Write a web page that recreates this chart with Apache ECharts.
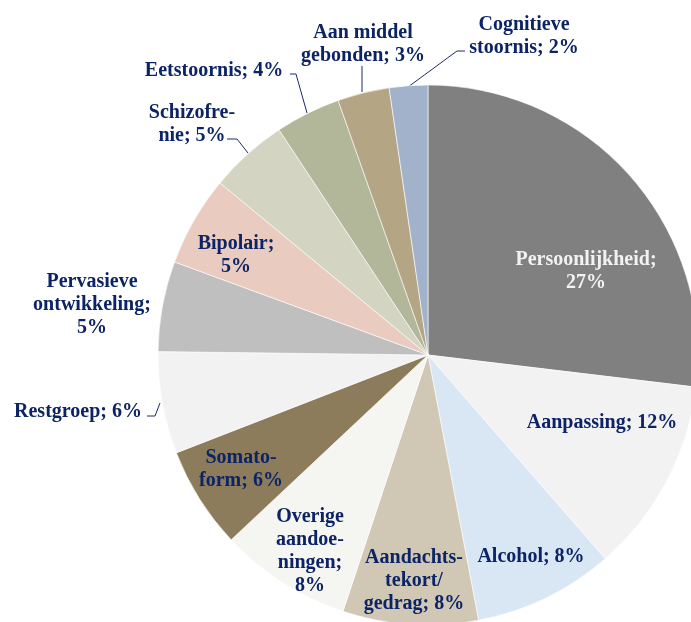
<!DOCTYPE html>
<html>
<head>
<meta charset="utf-8">
<script src="https://cdn.jsdelivr.net/npm/echarts@6/dist/echarts.min.js"></script>
<style>
  html, body { margin: 0; padding: 0; background: #fff; }
  #chart { width: 691px; height: 622px; }
</style>
</head>
<body>
<div id="chart"></div>
<script>
// ---------- data ----------
const categories = [
  "Persoonlijkheid", "Aanpassing", "Alcohol", "Aandachtstekort/gedrag",
  "Overige aandoeningen", "Somatoform", "Restgroep", "Pervasieve ontwikkeling",
  "Bipolair", "Schizofrenie", "Eetstoornis", "Aan middel gebonden", "Cognitieve stoornis"
];
// slice sizes (percent)
const shares = [26.9, 11.7, 8.4, 8.1, 7.9, 6.1, 6.1, 5.4, 5.4, 4.7, 3.9, 3.1, 2.3];
// percentages printed on the chart
const shownPct = [27, 12, 8, 8, 8, 6, 6, 5, 5, 5, 4, 3, 2];
// label text as broken in the reference ({p} = printed percentage)
const labelText = [
  "Persoonlijkheid;\n{p}%", "Aanpassing; {p}%", "Alcohol; {p}%", "Aandachts-\ntekort/\ngedrag; {p}%",
  "Overige\naandoe-\nningen;\n{p}%", "Somato-\nform; {p}%", "Restgroep; {p}%", "Pervasieve\nontwikkeling;\n{p}%",
  "Bipolair;\n{p}%", "Schizofre-\nnie; {p}%", "Eetstoornis; {p}%", "Aan middel\ngebonden; {p}%", "Cognitieve\nstoornis; {p}%"
];

// ---------- styling / layout ----------
const colors = [
  "#808080", "#f2f2f2", "#d9e7f5", "#d0c7b4", "#f5f5f1", "#8c7c5b", "#f2f2f2",
  "#bfbfbf", "#e9cbc0", "#d3d5c2", "#b2b79a", "#b4a584", "#a3b2cb"
];
const NAVY = "#0c2466";
// label centres [x, y] and leader line points (null = no line)
const labelPos = [
  [586, 271], [602, 423], [531, 557], [414, 581], [310, 551], [241, 469], [78, 412],
  [92, 305], [236, 255], [192, 124], [214, 71], [363, 44], [524, 36]
];
const linePts = [
  null, null, null, null, null, null, [[160, 403], [155, 416], [147, 416]],
  null, null, [[248, 153], [237, 139], [227, 139]], [[307, 113], [296, 74], [290, 74]],
  [[362, 92], [362, 78], [362, 66]], [[408, 87], [457, 51], [465, 51]]
];

const chart = echarts.init(document.getElementById("chart"), null, { renderer: "canvas" });

const data = categories.map((name, i) => ({
  name: name,
  value: shares[i],
  itemStyle: { color: colors[i] },
  label: {
    color: i === 0 ? "#f2f2f2" : NAVY,
    formatter: labelText[i].replace("{p}", shownPct[i])
  },
  labelLine: { show: !!linePts[i] }
}));

chart.setOption({
  animation: false,
  backgroundColor: "#ffffff",
  series: [{
    type: "pie",
    center: [428, 355],
    radius: [0, 270],
    startAngle: 90,
    clockwise: true,
    avoidLabelOverlap: false,
    itemStyle: { borderColor: "#ffffff", borderWidth: 0.6 },
    label: {
      show: true,
      position: "outside",
      fontFamily: "Liberation Serif",
      fontWeight: "bold",
      fontSize: 20,
      lineHeight: 23,
      align: "center"
    },
    labelLine: { lineStyle: { color: "#1f2a6b", width: 1 } },
    labelLayout: function (params) {
      const i = params.dataIndex;
      const out = {
        x: labelPos[i][0],
        y: labelPos[i][1],
        align: "center",
        verticalAlign: "middle"
      };
      if (linePts[i]) out.labelLinePoints = linePts[i];
      return out;
    },
    data: data
  }]
});
</script>
</body>
</html>
